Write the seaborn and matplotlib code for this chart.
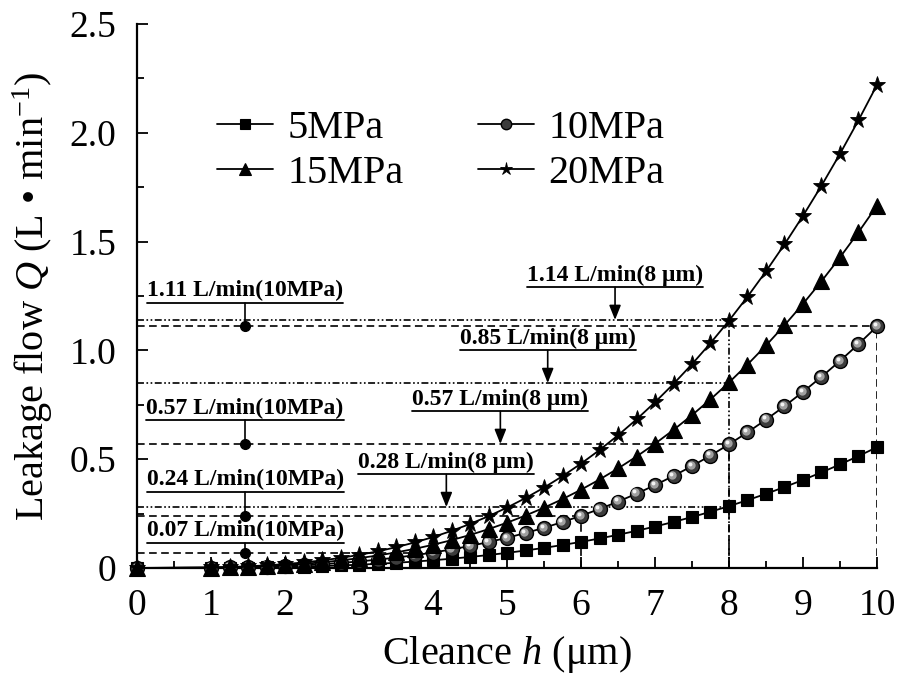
import matplotlib
matplotlib.use("Agg")
import matplotlib.pyplot as plt
from matplotlib.transforms import ScaledTranslation
import seaborn as sns

sns.set_style("white")
plt.rcParams['font.family'] = ['Liberation Serif', 'DejaVu Serif']
plt.rcParams['mathtext.fontset'] = 'custom'
plt.rcParams['mathtext.rm'] = 'Liberation Serif'
plt.rcParams['mathtext.it'] = 'Liberation Serif:italic'
plt.rcParams['lines.scale_dashes'] = False
plt.rcParams['text.color'] = 'k'
plt.rcParams['axes.labelcolor'] = 'k'
plt.rcParams['xtick.color'] = 'k'
plt.rcParams['ytick.color'] = 'k'

# clearance h (um) and leakage flow Q (L/min)
h = [0, 1, 1.25, 1.5, 1.75, 2, 2.25, 2.5, 2.75, 3, 3.25, 3.5, 3.75, 4, 4.25,
     4.5, 4.75, 5, 5.25, 5.5, 5.75, 6, 6.25, 6.5, 6.75, 7, 7.25, 7.5, 7.75,
     8, 8.25, 8.5, 8.75, 9, 9.25, 9.5, 9.75, 10]
q_5 = [0, 0.0006, 0.0011, 0.0019, 0.0030, 0.0044, 0.0063, 0.0087, 0.0115,
       0.0150, 0.0191, 0.0238, 0.0293, 0.0355, 0.0426, 0.0506, 0.0595, 0.0694,
       0.0803, 0.0923, 0.1055, 0.1199, 0.1355, 0.1524, 0.1707, 0.1904, 0.2115,
       0.2341, 0.2583, 0.2842, 0.3116, 0.3408, 0.3718, 0.4046, 0.4393, 0.4758,
       0.5144, 0.555]
q_10 = [0, 0.0011, 0.0022, 0.0037, 0.0059, 0.0089, 0.0126, 0.0173, 0.0231,
        0.0300, 0.0381, 0.0476, 0.0585, 0.0710, 0.0852, 0.1011, 0.1190, 0.1388,
        0.1606, 0.1847, 0.2110, 0.2398, 0.2710, 0.3048, 0.3414, 0.3807, 0.4230,
        0.4683, 0.5167, 0.5683, 0.6233, 0.6817, 0.7436, 0.8092, 0.8785, 0.9517,
        1.0288, 1.11]
q_15 = [0, 0.0017, 0.0033, 0.0056, 0.0089, 0.0133, 0.0190, 0.0260, 0.0346,
        0.0450, 0.0572, 0.0714, 0.0878, 0.1066, 0.1278, 0.1517, 0.1784, 0.2081,
        0.2409, 0.2770, 0.3165, 0.3596, 0.4065, 0.4573, 0.5121, 0.5711, 0.6345,
        0.7024, 0.7750, 0.8525, 0.9349, 1.0225, 1.1154, 1.2138, 1.3178, 1.4275,
        1.5432, 1.665]
q_20 = [0, 0.0022, 0.0043, 0.0075, 0.0119, 0.0178, 0.0253, 0.0347, 0.0462,
        0.0599, 0.0762, 0.0952, 0.1171, 0.1421, 0.1704, 0.2023, 0.2379, 0.2775,
        0.3212, 0.3693, 0.4220, 0.4795, 0.5420, 0.6097, 0.6828, 0.7615, 0.8460,
        0.9366, 1.0334, 1.1366, 1.2466, 1.3634, 1.4872, 1.6184, 1.7570, 1.9034,
        2.0576, 2.22]

# annotations: 10MPa values at h = 10, 8, 6, 4 and 8 um values per pressure
mpa_vals = [1.11, 0.57, 0.24, 0.07]
mpa_h = [10, 8, 6, 4]
mpa_labels = ['1.11 L/min(10MPa)', '0.57 L/min(10MPa)',
              '0.24 L/min(10MPa)', '0.07 L/min(10MPa)']
um_vals = [1.14, 0.85, 0.57, 0.28]
um_labels = ['1.14 L/min(8 μm)', '0.85 L/min(8 μm)',
             '0.57 L/min(8 μm)', '0.28 L/min(8 μm)']
um_h = 8

x_ticks = list(range(0, 11))
y_ticks = [0, 0.5, 1.0, 1.5, 2.0, 2.5]
y_tick_labels = ['0', '0.5', '1.0', '1.5', '2.0', '2.5']

fig = plt.figure(figsize=(8.98, 6.82), dpi=100)
ax = fig.add_axes([0.1526, 0.1672, 0.824, 0.7976])

dash = (0, (5.5, 3.2))
dashdot = (0, (5.0, 1.8, 1.2, 1.8, 1.2, 1.8))
gl = dict(color='k', lw=1.2, zorder=1)

# guide lines
for v, hh in zip(mpa_vals, mpa_h):
    ax.plot([0, hh], [v, v], ls=dash, **gl)
    ax.plot([hh, hh], [0, v], ls=dash, **gl)
for v in um_vals:
    if v in mpa_vals:
        continue
    ax.plot([0, um_h], [v, v], ls=dashdot, **gl)
ax.plot([um_h, um_h], [0, max(um_vals)], ls=dashdot, **gl)

# series
sns.lineplot(x=h, y=q_5, ax=ax, color='k', lw=1.3, marker='s', markersize=9.2,
             markerfacecolor='k', markeredgecolor='k', markeredgewidth=0.8,
             label='5MPa', clip_on=False, zorder=3)
sns.lineplot(x=h, y=q_10, ax=ax, color='k', lw=1.3, marker='o', markersize=10,
             markerfacecolor='#3c3c3c', markeredgecolor='k', markeredgewidth=1.0,
             label='10MPa', clip_on=False, zorder=3.1)
off1 = ax.transData + ScaledTranslation(-0.9 / 72, 0.9 / 72, fig.dpi_scale_trans)
off2 = ax.transData + ScaledTranslation(-1.6 / 72, 1.6 / 72, fig.dpi_scale_trans)
ax.plot(h, q_10, ls='none', marker='o', ms=6, mfc='#a0a0a0', mec='none',
        transform=off1, clip_on=False, zorder=3.12)
ax.plot(h, q_10, ls='none', marker='o', ms=2.8, mfc='#f4f4f4', mec='none',
        transform=off2, clip_on=False, zorder=3.14)
sns.lineplot(x=h, y=q_15, ax=ax, color='k', lw=1.3, marker='^', markersize=12,
             markerfacecolor='k', markeredgecolor='k', markeredgewidth=0.8,
             label='15MPa', clip_on=False, zorder=3.2)
sns.lineplot(x=h, y=q_20, ax=ax, color='k', lw=1.3, marker='*', markersize=12.5,
             markerfacecolor='k', markeredgecolor='k', markeredgewidth=0.6,
             label='20MPa', clip_on=False, zorder=3.3)

ax.set_xlim(0, 10)
ax.set_ylim(0, 2.5)
ax.set_xticks(x_ticks)
ax.set_xticks([x + 0.5 for x in x_ticks[:-1]], minor=True)
ax.set_yticks(y_ticks)
ax.set_yticklabels(y_tick_labels)
ax.set_yticks([y + 0.25 for y in y_ticks[:-1]], minor=True)
ax.tick_params(which='both', direction='in', bottom=True, left=True,
               width=1.3, colors='k', labelsize=27, pad=15)
ax.tick_params(which='major', length=8)
ax.tick_params(which='minor', length=5)
sns.despine(ax=ax)
for s in ['left', 'bottom']:
    ax.spines[s].set_linewidth(1.6)
    ax.spines[s].set_color('k')

ax.set_xlabel('Cleance $h$ (μm)', fontsize=29, labelpad=8, color='k')
ax.set_ylabel('Leakage flow $Q$ (L • min$^{-1}$)', fontsize=29, labelpad=10,
              color='k')

# legend: columns (5, 15) and (10, 20)
hs, ls = ax.get_legend_handles_labels()
order = [0, 2, 1, 3]
leg = ax.legend([hs[i] for i in order], [ls[i] for i in order], ncol=2,
                frameon=False, loc='upper left', bbox_to_anchor=(0.2413, 0.839),
                bbox_transform=fig.transFigure, fontsize=29, handlelength=1.4,
                handletextpad=0.35, columnspacing=1.85, labelspacing=0.2,
                borderpad=0, borderaxespad=0, markerscale=0.75)
for t in leg.get_texts():
    t.set_color('k')

# labels
tk = dict(fontsize=17, fontweight='bold', ha='center', va='bottom', color='k')
mpa_x = 1.46
mpa_rise = [0.108, 0.108, 0.109, 0.046]
um_x = [6.46, 5.55, 4.91, 4.18]
um_rise = 0.15

texts = []
for v, s, r in zip(mpa_vals, mpa_labels, mpa_rise):
    yu = v + r
    t = ax.annotate(s, xy=(mpa_x, yu), xytext=(0, 1.2),
                    textcoords='offset points', **tk)
    texts.append((t, yu))
    ax.plot([mpa_x, mpa_x], [v, yu], color='k', lw=1.2, zorder=2)
    ax.plot([mpa_x], [v], marker='o', ms=7, color='k', zorder=2)
for v, s, xc in zip(um_vals, um_labels, um_x):
    yu = v + um_rise
    t = ax.annotate(s, xy=(xc, yu), xytext=(0, 1.2),
                    textcoords='offset points', **tk)
    texts.append((t, yu))
    ax.annotate('', xy=(xc, v), xytext=(xc, yu),
                arrowprops=dict(arrowstyle='-|>,head_length=0.55,head_width=0.22',
                                color='k', lw=1.2, mutation_scale=16,
                                shrinkA=0, shrinkB=0), zorder=2)

fig.canvas.draw()
r = fig.canvas.get_renderer()
inv = ax.transData.inverted()
for t, yu in texts:
    bb = t.get_window_extent(r)
    x0 = inv.transform((bb.x0, bb.y0))[0]
    x1 = inv.transform((bb.x1, bb.y0))[0]
    ax.plot([x0, x1], [yu, yu], color='k', lw=1.3, zorder=2)

fig.savefig('out.png', dpi=100)
